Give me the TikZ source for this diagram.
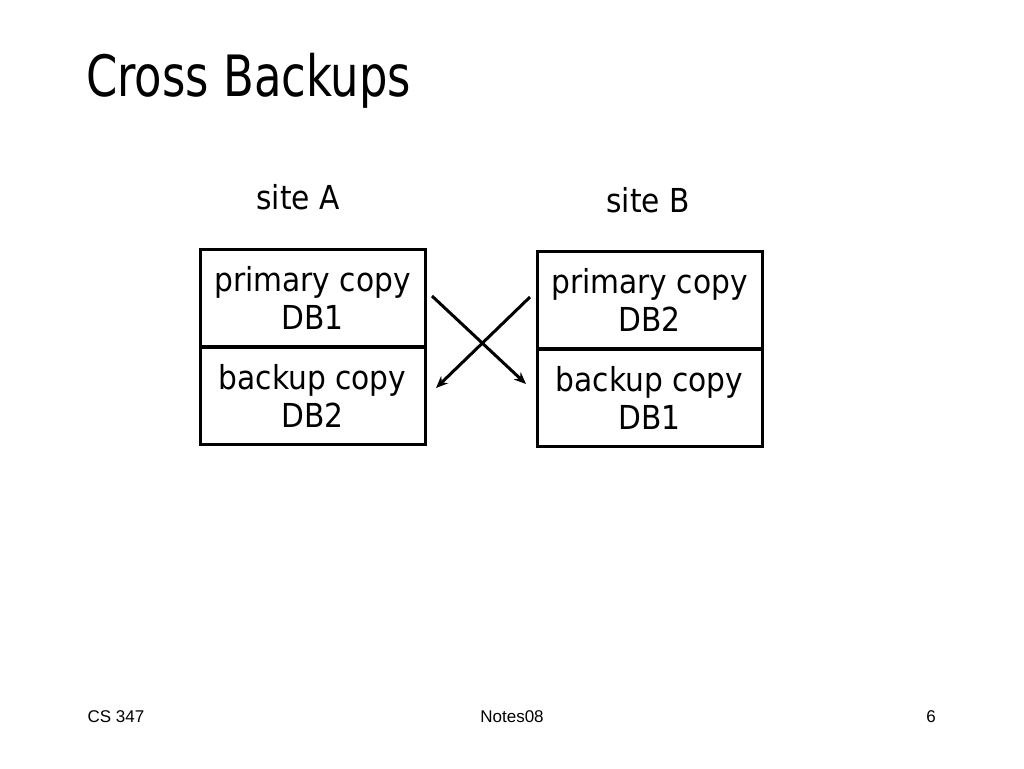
\documentclass[tikz,border=0pt]{standalone}
\usepackage{fontspec}
\setmainfont{DejaVu Sans Condensed}
\newfontfamily\footfont{Liberation Sans}
\usetikzlibrary{arrows.meta}
\tikzset{
  half/.style={draw, line width=3pt, minimum width=225pt, minimum height=97pt, align=center, inner sep=0pt, font=\fontsize{33}{40}\selectfont},
  arr/.style={line width=3pt, -{Stealth[length=12pt,width=10pt]}},
  lab/.style={font=\fontsize{33}{40}\selectfont, inner sep=0pt},
  foot/.style={font=\footfont\fontsize{17}{20}\selectfont, inner sep=0pt}
}
\begin{document}
\begin{tikzpicture}[x=1pt,y=-1pt]
\useasboundingbox (0,0) rectangle (1024,768);
\node[anchor=west, inner sep=0pt, font=\fontsize{57}{64}\selectfont] (title) at (86,81) {\scalebox{0.875}[1]{Cross Backups}};
\node[lab] (sa) at (298,197) {site A};
\node[lab] (sb) at (648,200) {site B};
\node[half] (p1) at (312.5,297.5) {\raisebox{-2pt}{primary copy}\\DB1};
\node[half] (b1) at (312.5,396) {\raisebox{-2pt}{backup copy}\\DB2};
\node[half] (p2) at (649.5,299.5) {\raisebox{-2pt}{primary copy}\\DB2};
\node[half] (b2) at (649.5,397.5) {\raisebox{-2pt}{backup copy}\\DB1};
\coordinate (s1) at (432,296);
\coordinate (e1) at (526,384);
\coordinate (s2) at (530,297);
\coordinate (e2) at (436,388);
\draw[arr] (s1) -- (e1);
\draw[arr] (s2) -- (e2);
\node[foot] (f1) at (116,717) {CS 347};
\node[foot] (f2) at (512,717) {Notes08};
\node[foot] (f3) at (931,717) {6};
\end{tikzpicture}
\end{document}
